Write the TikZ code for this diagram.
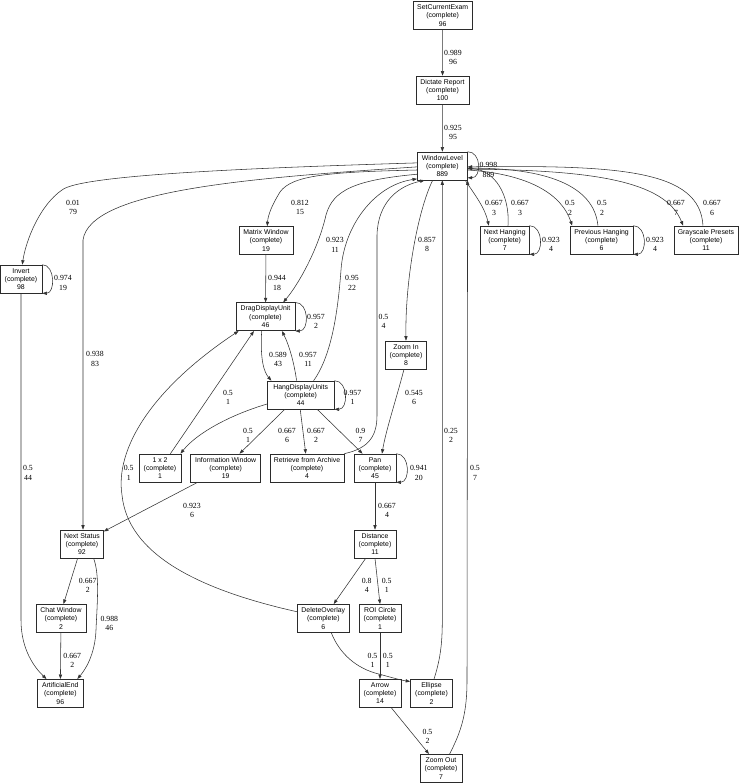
\documentclass[tikz,border=0pt]{standalone}
\usepackage{fontspec}
\setmainfont{Liberation Serif}
\newfontfamily\boxsans{Liberation Sans}
\usetikzlibrary{arrows.meta}
\definecolor{pmline}{HTML}{333333}
\definecolor{pmbox}{HTML}{2B2B2B}

\begin{document}
\begin{tikzpicture}[x=1pt,y=-1pt,
    box/.style={draw=pmbox,line width=0.6pt,minimum height=28pt,inner sep=0pt,align=center,
      font={\boxsans\fontsize{6.9}{8.3}\selectfont}},
    lbl/.style={inner sep=0pt,align=center,font={\fontsize{7.8}{9.3}\selectfont}},
    arr/.style={-{Triangle[length=4.5pt,width=3.2pt]},draw=pmline,line width=0.55pt}]
  \useasboundingbox (0,0) rectangle (739,783);

  % activities
  \node[box,minimum width=59pt] (sce) at (442.7,15.5) {SetCurrentExam\\(complete)\\96};
  \node[box,minimum width=53pt] (dict) at (442.5,90) {Dictate Report\\(complete)\\100};
  \node[box,minimum width=50pt] (wl) at (442.3,166) {WindowLevel\\(complete)\\889};
  \node[box,minimum width=42pt] (inv) at (21,279) {Invert\\(complete)\\98};
  \node[box,minimum width=54pt] (matrix) at (266,240.5) {Matrix Window\\(complete)\\19};
  \node[box,minimum width=49pt] (nhang) at (504.7,240) {Next Hanging\\(complete)\\7};
  \node[box,minimum width=63pt] (phang) at (601.5,240) {Previous Hanging\\(complete)\\6};
  \node[box,minimum width=64pt] (gray) at (706,240) {Grayscale Presets\\(complete)\\11};
  \node[box,minimum width=59pt] (ddu) at (265.5,316.7) {DragDisplayUnit\\(complete)\\46};
  \node[box,minimum width=41pt] (zin) at (406,355) {Zoom In\\(complete)\\8};
  \node[box,minimum width=67pt] (hang) at (300.7,395) {HangDisplayUnits\\(complete)\\44};
  \node[box,minimum width=42pt] (onetwo) at (160,468) {1 x 2\\(complete)\\1};
  \node[box,minimum width=70pt] (info) at (225.7,468) {Information Window\\(complete)\\19};
  \node[box,minimum width=74pt] (retr) at (307,468) {Retrieve from Archive\\(complete)\\4};
  \node[box,minimum width=42pt] (pan) at (375,468) {Pan\\(complete)\\45};
  \node[box,minimum width=43pt] (nstat) at (82,544) {Next Status\\(complete)\\92};
  \node[box,minimum width=42pt] (dist) at (375,544) {Distance\\(complete)\\11};
  \node[box,minimum width=50pt] (chat) at (61,618.3) {Chat Window\\(complete)\\2};
  \node[box,minimum width=52pt] (delov) at (323.3,618.3) {DeleteOverlay\\(complete)\\6};
  \node[box,minimum width=42pt] (roi) at (380,618.3) {ROI Circle\\(complete)\\1};
  \node[box,minimum width=46pt] (aend) at (60.3,693.3) {ArtificialEnd\\(complete)\\96};
  \node[box,minimum width=42pt] (arrow) at (380,693.3) {Arrow\\(complete)\\14};
  \node[box,minimum width=42pt] (ell) at (431.5,693.3) {Ellipse\\(complete)\\2};
  \node[box,minimum width=42pt] (zout) at (441,768.3) {Zoom Out\\(complete)\\7};

  % top chain
  \draw[arr] (sce) -- (dict) node[lbl] at (453,57.4) {0.989\\96};
  \draw[arr] (dict) -- (wl) node[lbl] at (453,132.5) {0.925\\95};
  \draw[arr] (wl.north east) .. controls +(14,0) and +(14,0) .. (wl.335)
    node[lbl] at (488.5,170) {0.998\\889};

  % out of WindowLevel, left side
  \draw[arr] (wl.173) .. controls (250,168) and (80,175) .. (62,190)
    .. controls (40,205) and (26,240) .. (inv.85) node[lbl] at (73,207.4) {0.01\\79};
  \draw[arr] (inv.north east) .. controls +(13,0) and +(13,0) .. (inv.south east)
    node[lbl] at (63,283) {0.974\\19};
  \draw[arr] (wl.182) .. controls (250,178) and (90,190) .. (83,240) -- (nstat.86)
    node[lbl] at (95,359) {0.938\\83};
  \draw[arr] (wl.189) .. controls (330,172) and (292,175) .. (280,192)
    .. controls (272,205) and (268,215) .. (matrix.85) node[lbl] at (300,207.4) {0.812\\15};
  \draw[arr] (matrix) -- (ddu) node[lbl] at (277,283) {0.944\\18};
  \draw[arr] (wl.198) .. controls (355,180) and (333,190) .. (326,215)
    .. controls (318,250) and (298,285) .. (ddu.39) node[lbl] at (335,245) {0.923\\11};
  \draw[arr] (hang.48) .. controls (332,355) and (338,310) .. (341,270)
    .. controls (344,225) and (375,185) .. (wl.207) node[lbl] at (352,283) {0.95\\22};

  % out of WindowLevel, right side
  \draw[arr] (wl.328) .. controls (475,195) and (485,208) .. (nhang.138)
    node[lbl] at (494,208) {0.667\\3};
  \draw[arr] (nhang.77) .. controls (510,195) and (495,170) .. (wl.355)
    node[lbl] at (520,208) {0.667\\3};
  \draw[arr] (nhang.north east) .. controls +(14,0) and +(14,0) .. (nhang.south east)
    node[lbl] at (551,244.7) {0.923\\4};
  \draw[arr] (wl.351) .. controls (530,174) and (562,195) .. (phang.154)
    node[lbl] at (570,208) {0.5\\2};
  \draw[arr] (phang.104) .. controls (594,185) and (545,168) .. (wl.355)
    node[lbl] at (602,208) {0.5\\2};
  \draw[arr] (phang.north east) .. controls +(14,0) and +(14,0) .. (phang.south east)
    node[lbl] at (655,244.7) {0.923\\4};
  \draw[arr] (wl.353) .. controls (590,170) and (665,180) .. (gray.148)
    node[lbl] at (676,208) {0.667\\7};
  \draw[arr] (gray.102) .. controls (700,170) and (620,165) .. (wl.358)
    node[lbl] at (712,208) {0.667\\6};

  % middle
  \draw[arr] (wl.236) .. controls (418,210) and (405,280) .. (zin.north)
    node[lbl] at (427,244.7) {0.857\\8};
  \draw[arr] (ddu.north east) .. controls +(14,0) and +(14,0) .. (ddu.south east)
    node[lbl] at (316,321.3) {0.957\\2};
  \draw[arr] (retr.north east) .. controls (370,448) and (377,435) .. (377,415) -- (377,235)
    .. controls (378,202) and (398,186) .. (wl.219) node[lbl] at (383.5,321.7) {0.5\\4};
  \draw[arr] (ddu.255) .. controls (260,360) and (264,372) .. (hang.154)
    node[lbl] at (278,359.5) {0.589\\43};
  \draw[arr] (hang.106) .. controls (294,362) and (289,345) .. (ddu.319)
    node[lbl] at (308,359.5) {0.957\\11};
  \draw[arr] (hang.north east) .. controls +(14,0) and +(14,0) .. (hang.south east)
    node[lbl] at (352.5,397.7) {0.957\\1};
  \draw[arr] (zin.262) .. controls (396,400) and (386,430) .. (pan.64)
    node[lbl] at (414,397.7) {0.545\\6};
  \draw[arr] (onetwo.54) -- (ddu.231) node[lbl] at (228,397.3) {0.5\\1};
  \draw[arr] (hang.195) .. controls (230,415) and (197,433) .. (onetwo.35)
    node[lbl] at (248,435.5) {0.5\\1};
  \draw[arr] (hang.222) -- (info.46) node[lbl] at (287,435.5) {0.667\\6};
  \draw[arr] (hang.268) -- (retr.95) node[lbl] at (316,435.5) {0.667\\2};
  \draw[arr] (hang.319) -- (pan.131) node[lbl] at (360.5,435.5) {0.9\\7};
  \draw[arr] (pan.north east) .. controls +(14,0) and +(14,0) .. (pan.south east)
    node[lbl] at (418.8,472.8) {0.941\\20};

  % lower part
  \draw[arr] (info.207) -- (nstat.30) node[lbl] at (192,510.7) {0.923\\6};
  \draw[arr] (pan) -- (dist) node[lbl] at (387,510.3) {0.667\\4};
  \draw[arr] (nstat.253) -- (chat.80) node[lbl] at (87.7,585.7) {0.667\\2};
  \draw[arr] (nstat.309) .. controls (100,575) and (97,605) .. (96,630)
    .. controls (95,655) and (85,670) .. (aend.40) node[lbl] at (109.3,623.2) {0.988\\46};
  \draw[arr] (chat) -- (aend) node[lbl] at (72.2,660.7) {0.667\\2};
  \draw[arr] (inv.south) -- (21,620) .. controls (21,650) and (35,668) .. (aend.134)
    node[lbl] at (28,472.8) {0.5\\44};
  \draw[arr] (dist.237) -- (delov.54) node[lbl] at (366.7,585.7) {0.8\\4};
  \draw[arr] (dist.south) -- (roi.north) node[lbl] at (386.7,585.7) {0.5\\1};
  \draw[arr] (delov.166) .. controls (200,590) and (128,555) .. (122,495)
    .. controls (115,450) and (150,390) .. (ddu.208) node[lbl] at (128.7,472.8) {0.5\\1};
  \draw[arr] (delov.299) .. controls (338,650) and (352,666) .. (375,673)
    .. controls (390,677) and (400,680) .. (ell.151) node[lbl] at (372.5,660.7) {0.5\\1};
  \draw[arr] (roi) -- (arrow) node[lbl] at (387.8,660.7) {0.5\\1};
  \draw[arr] (arrow.308) -- (zout.130) node[lbl] at (427.5,736.2) {0.5\\2};
  \draw[arr] (ell.80) .. controls (440,660) and (442.3,645) .. (442.3,620) -- (wl.south)
    node[lbl] at (451,435.5) {0.25\\2};
  \draw[arr] (zout.59) .. controls (462,730) and (467,712) .. (467,680) -- (wl.south east)
    node[lbl] at (475,472.8) {0.5\\7};
\end{tikzpicture}
\end{document}
